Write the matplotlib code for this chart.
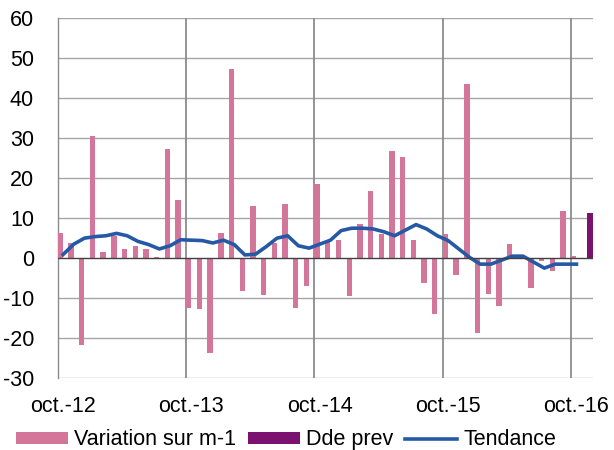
import matplotlib
matplotlib.use('Agg')
import matplotlib.pyplot as plt
import numpy as np

plt.rcParams['font.family'] = ['Liberation Sans', 'DejaVu Sans']
plt.rcParams['axes.unicode_minus'] = False

# monthly categories oct.-12 .. nov.-16
tick_pos = [0, 12, 24, 36, 48]
tick_labels = ['oct.-12', 'oct.-13', 'oct.-14', 'oct.-15', 'oct.-16']

# Variation sur m-1 (oct.-12 .. oct.-16)
variation = [6.3, 3.8, -21.7, 30.6, 1.5, 5.6, 2.3, 3.1, 2.3, 0.2, 27.3, 14.5,
             -12.5, -12.7, -23.8, 6.3, 47.4, -8.1, 13.0, -9.1, 3.7, 13.6, -12.5, -7.0,
             18.5, 4.0, 4.5, -9.4, 8.5, 16.9, 6.0, 26.9, 25.2, 4.5, -6.3, -14.1,
             6.0, -4.1, 43.7, -18.7, -9.0, -12.1, 3.5, 0.3, -7.5, -0.7, -3.1, 11.7,
             0.6]

# Dde prev (nov.-16 only)
dde_prev_pos = [49]
dde_prev = [11.2]

# Tendance
tendance = [0.9, 3.5, 5.0, 5.4, 5.6, 6.2, 5.6, 4.2, 3.4, 2.3, 3.1, 4.6,
            4.5, 4.4, 3.8, 4.5, 3.4, 0.8, 1.0, 2.9, 5.0, 5.6, 3.1, 2.5,
            3.5, 4.5, 6.9, 7.5, 7.5, 7.3, 6.6, 5.6, 7.0, 8.4, 7.3, 5.6,
            4.4, 2.3, 0.2, -1.5, -1.5, -0.5, 0.5, 0.5, -1.0, -2.5, -1.5, -1.5, -1.5]

pink = '#D4759A'
purple = '#7B1270'
blue = '#2559A6'

fig = plt.figure(figsize=(6.14, 4.5), dpi=100)
ax = fig.add_axes([0.094, 0.16, 0.871, 0.799])

x = np.arange(len(variation))
b1 = ax.bar(x - 0.25, variation, width=0.5, color=pink, label='Variation sur m-1', zorder=3)
b2 = ax.bar(np.array(dde_prev_pos) + 0.25, dde_prev, width=0.5, color=purple, label='Dde prev', zorder=3)
l1, = ax.plot(np.arange(len(tendance)), tendance, color=blue, lw=2.6, label='Tendance', zorder=4)

ax.set_xlim(-0.5, 49.5)
ax.set_ylim(-30, 60)
ax.set_yticks(range(-30, 61, 10))
ax.set_xticks(tick_pos)
ax.set_xticklabels(tick_labels)
ax.tick_params(axis='both', length=0, labelsize=15.5)
ax.tick_params(axis='y', pad=17)
ax.tick_params(axis='x', pad=13)

for v in range(-30, 61, 10):
    if v != 0:
        ax.axhline(v, color='#a6a6a6', lw=1.0, zorder=1)
ax.axhline(0, color='#404040', lw=1.0, zorder=5)
for p in [11.5, 23.5, 35.5, 47.5]:
    ax.axvline(p, color='#8c8c8c', lw=1.3, zorder=1)

for s in ['top', 'right', 'bottom']:
    ax.spines[s].set_visible(False)
ax.spines['left'].set_color('#8c8c8c')
ax.spines['left'].set_linewidth(1.0)

fig.legend([b1, b2, l1], ['Variation sur m-1', 'Dde prev', 'Tendance'],
           loc='lower center', bbox_to_anchor=(0.466, -0.044), ncol=3, frameon=False,
           fontsize=15.5, handlelength=2.4, handleheight=0.5, handletextpad=0.3,
           columnspacing=0.55)

fig.savefig('out.png', dpi=100)
